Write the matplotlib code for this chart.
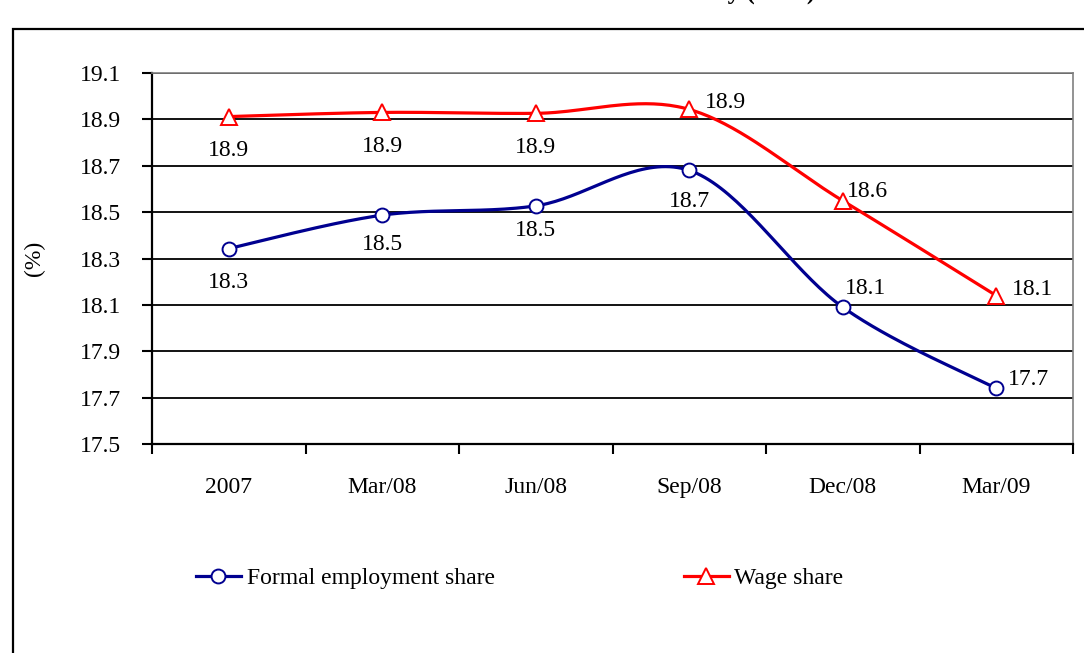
import numpy as np
import matplotlib
matplotlib.use("Agg")
from matplotlib import pyplot as plt
from matplotlib.patches import Rectangle
from matplotlib.lines import Line2D

# data
quarters = ["2007", "Mar/08", "Jun/08", "Sep/08", "Dec/08", "Mar/09"]
employment = [18.343, 18.487, 18.527, 18.68, 18.09, 17.74]
wage = [18.912, 18.93, 18.926, 18.943, 18.549, 18.14]
employment_labels = ["18.3", "18.5", "18.5", "18.7", "18.1", "17.7"]
wage_labels = ["18.9", "18.9", "18.9", "18.9", "18.6", "18.1"]

# label placement (pixels from each marker, horizontal alignment)
employment_offsets = [(0, -34), (0, -29), (0, -25), (0, -31), (2, 19), (12, 9)]
employment_align = ["center", "center", "center", "center", "left", "left"]
wage_offsets = [(0, -34), (0, -34), (0, -34), (16, 7), (4, 9), (16, 6)]
wage_align = ["center", "center", "center", "left", "left", "left"]

BLUE = "#000090"
RED = "#ff0000"
FS = 17


def smooth(xs, ys, n=40):
    # Excel-like smoothed line: Catmull-Rom segments as cubic Bezier
    p = np.column_stack([xs, ys]).astype(float)
    ext = np.vstack([p[0], p, p[-1]])
    out = []
    t = np.linspace(0, 1, n)[:, None]
    for i in range(len(p) - 1):
        p0, p1, p2, p3 = ext[i], ext[i + 1], ext[i + 2], ext[i + 3]
        c1 = p1 + (p2 - p0) / 6
        c2 = p2 - (p3 - p1) / 6
        seg = ((1 - t) ** 3) * p1 + 3 * ((1 - t) ** 2) * t * c1 + 3 * (1 - t) * t ** 2 * c2 + t ** 3 * p2
        out.append(seg)
    out = np.vstack(out)
    return out[:, 0], out[:, 1]


plt.rcParams['font.family'] = ["Liberation Serif", 'DejaVu Serif']

fig = plt.figure(figsize=(10.84, 6.53), dpi=100)
W, H = 1084, 653

# outer chart frame, cut off at right and bottom
fig.patches.append(Rectangle((13 / W, -0.1), 1.2, 1.1 - 29 / H, transform=fig.transFigure,
                             fill=False, edgecolor="black", linewidth=1.6))

# title sits mostly above the visible area, as in the reference
fig.text(815 / W, 1 + 1.0 / H, "Shares of the formal economy (in %)", ha="right", va="baseline",
         fontsize=18, fontweight="bold")

ax = fig.add_axes([152 / W, 1 - 444 / H, (1073 - 152) / W, (444 - 73) / H])

x = np.arange(len(quarters))

ex, ey = smooth(x, employment)
wx, wy = smooth(x, wage)
ax.plot(ex, ey, color=BLUE, linewidth=2.3, zorder=3)
ax.plot(wx, wy, color=RED, linewidth=2.3, zorder=3)
ax.plot(x, employment, linestyle="none", marker="o", markersize=10, markerfacecolor="white",
        markeredgecolor=BLUE, markeredgewidth=1.4, zorder=4)
ax.plot(x, wage, linestyle="none", marker="^", markersize=11, markerfacecolor="white",
        markeredgecolor=RED, markeredgewidth=1.4, zorder=4)

for xi, yi, lab, off, ha in zip(x, employment, employment_labels, employment_offsets, employment_align):
    ax.annotate(lab, (xi, yi), xytext=off, textcoords="offset pixels",
                ha=ha, va="center", fontsize=FS)
for xi, yi, lab, off, ha in zip(x, wage, wage_labels, wage_offsets, wage_align):
    ax.annotate(lab, (xi, yi), xytext=off, textcoords="offset pixels",
                ha=ha, va="center", fontsize=FS)

ax.set_xlim(-0.5, len(quarters) - 0.5)
ax.set_ylim(17.5, 19.1)
yt = np.round(np.arange(17.5, 19.11, 0.2), 1)
ax.set_yticks(yt)
ax.set_yticklabels([f"{v:.1f}" for v in yt])
ax.yaxis.grid(True, color="black", linewidth=1.3)
ax.set_axisbelow(True)

ax.set_xticks(x)
ax.set_xticklabels(quarters)
ax.set_xticks(np.arange(-0.5, len(quarters)), minor=True)
ax.tick_params(axis="x", which="major", length=0, pad=24, labelsize=FS)
ax.tick_params(axis="x", which="minor", length=7, width=1.5, direction="out")
ax.tick_params(axis="y", length=7, width=1.5, direction="out", pad=15, labelsize=FS)

for side in ("left", "bottom"):
    ax.spines[side].set_color("black")
    ax.spines[side].set_linewidth(1.6)
for side in ("top", "right"):
    ax.spines[side].set_color("#808080")
    ax.spines[side].set_linewidth(1.2)

ax.set_ylabel("(%)", fontsize=FS)
ax.yaxis.set_label_coords(-107 / (1073 - 152), 0.5)

handles = [Line2D([], [], color=BLUE, linewidth=2.3, marker="o", markersize=10,
                  markerfacecolor="white", markeredgecolor=BLUE, markeredgewidth=1.4),
           Line2D([], [], color=RED, linewidth=2.3, marker="^", markersize=11,
                  markerfacecolor="white", markeredgecolor=RED, markeredgewidth=1.4)]
fig.legend(handles, ["Formal employment share", "Wage share"], loc="center left",
           bbox_to_anchor=(196 / W, 1 - 578 / H), ncol=2, frameon=False,
           fontsize=FS, handlelength=1.9, handletextpad=0.25, columnspacing=8.0,
           borderpad=0, borderaxespad=0)

fig.savefig("out.png", dpi=100)
